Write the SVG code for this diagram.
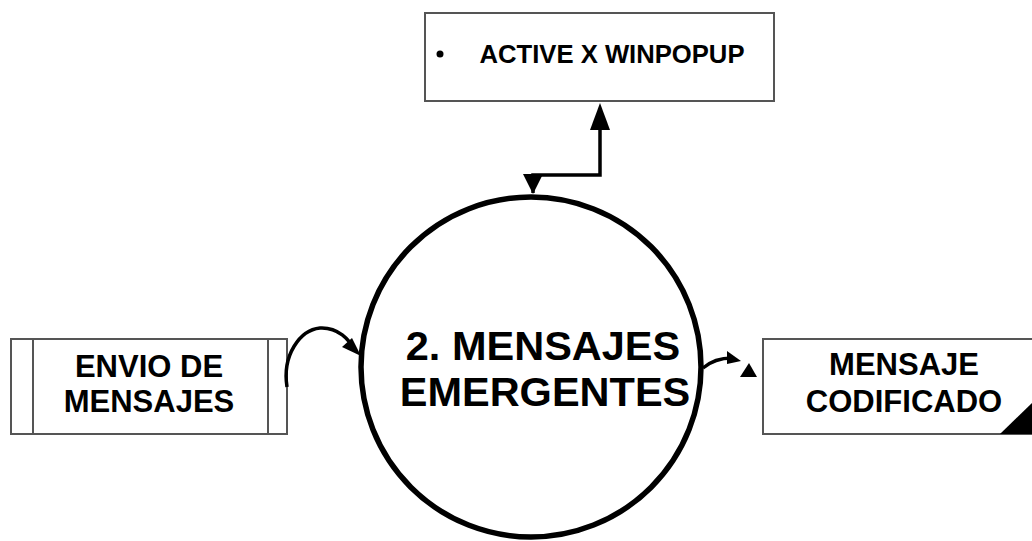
<svg xmlns="http://www.w3.org/2000/svg" width="1032" height="541" viewBox="0 0 1032 541">
<style>
.box{fill:#fff;stroke:#555;stroke-width:2}
.t{font-family:"Liberation Sans",Arial,sans-serif;font-weight:bold;fill:#000;text-anchor:middle}
.c{fill:none;stroke:#000;stroke-width:3.5;stroke-linejoin:miter}
</style>
<rect width="1032" height="541" fill="#fff"/>
<g id="node-activex">
<rect class="box" x="425" y="13" width="349" height="88"/>
<circle cx="440" cy="54" r="3.5" fill="#000"/>
<text class="t" x="612" y="63" font-size="26" textLength="265" lengthAdjust="spacingAndGlyphs">ACTIVE X WINPOPUP</text>
</g>
<g id="node-envio">
<rect class="box" x="11" y="339" width="276" height="95"/>
<line x1="33" y1="339" x2="33" y2="434" stroke="#555" stroke-width="2"/>
<line x1="268" y1="339" x2="268" y2="434" stroke="#555" stroke-width="2"/>
<text class="t" x="149" y="377" font-size="31">ENVIO DE</text>
<text class="t" x="149" y="412" font-size="31">MENSAJES</text>
</g>
<g id="node-proceso">
<ellipse cx="531" cy="367" rx="170" ry="170" fill="#fff" stroke="#000" stroke-width="5.5"/>
<text class="t" x="543" y="360" font-size="41.5">2. MENSAJES</text>
<text class="t" x="545" y="406" font-size="41.5">EMERGENTES</text>
</g>
<g id="node-codificado">
<rect class="box" x="763" y="339" width="290" height="95"/>
<polygon points="1000,434 1032,434 1032,403" fill="#000"/>
<text class="t" x="904" y="375" font-size="31">MENSAJE</text>
<text class="t" x="904" y="412" font-size="31">CODIFICADO</text>
</g>
<g id="connectors">
<path class="c" d="M533,193 L533,175 L600,175 L600,125"/>
<polygon points="590,130 610,130 600,103" fill="#000"/>
<polygon points="523,174 543,174 533,194" fill="#000"/>
<path class="c" d="M287,387 C282,355 300,330 320,328 C338,327 350,340 354,350"/>
<polygon points="342,347 352,338 361,356" fill="#000"/>
<path class="c" d="M703,368 C710,362 718,358 732,358" stroke-width="4"/>
<polygon points="727,351 741,361 727,364" fill="#000"/>
<polygon points="740,377 757,377 749,363" fill="#000"/>
</g>
</svg>
